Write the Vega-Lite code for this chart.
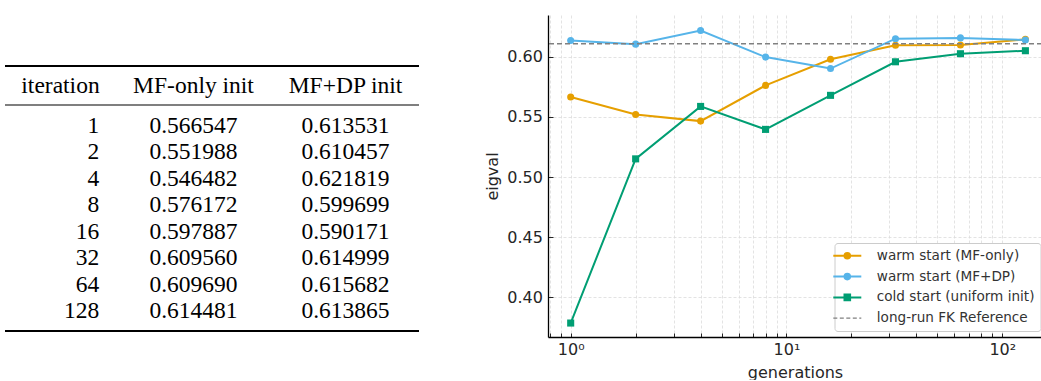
{
  "$schema": "https://vega.github.io/schema/vega-lite/v6.json",
  "padding": {"left": 0, "top": 15, "right": 0, "bottom": 0},
  "background": "white",
  "spacing": 54,
  "config": {"view": {"stroke": null}, "font": "DejaVu Sans"},
  "datasets": {
    "tbl": [
      {"r": 0, "c": 1, "t": "iteration"}, {"r": 0, "c": 2, "t": "MF-only init"}, {"r": 0, "c": 3, "t": "MF+DP init"},
      {"r": 1, "c": 1, "t": "1"}, {"r": 1, "c": 2, "t": "0.566547"}, {"r": 1, "c": 3, "t": "0.613531"},
      {"r": 2, "c": 1, "t": "2"}, {"r": 2, "c": 2, "t": "0.551988"}, {"r": 2, "c": 3, "t": "0.610457"},
      {"r": 3, "c": 1, "t": "4"}, {"r": 3, "c": 2, "t": "0.546482"}, {"r": 3, "c": 3, "t": "0.621819"},
      {"r": 4, "c": 1, "t": "8"}, {"r": 4, "c": 2, "t": "0.576172"}, {"r": 4, "c": 3, "t": "0.599699"},
      {"r": 5, "c": 1, "t": "16"}, {"r": 5, "c": 2, "t": "0.597887"}, {"r": 5, "c": 3, "t": "0.590171"},
      {"r": 6, "c": 1, "t": "32"}, {"r": 6, "c": 2, "t": "0.609560"}, {"r": 6, "c": 3, "t": "0.614999"},
      {"r": 7, "c": 1, "t": "64"}, {"r": 7, "c": 2, "t": "0.609690"}, {"r": 7, "c": 3, "t": "0.615682"},
      {"r": 8, "c": 1, "t": "128"}, {"r": 8, "c": 2, "t": "0.614481"}, {"r": 8, "c": 3, "t": "0.613865"}
    ],
    "rules": [{"r": -0.5}, {"r": 0.5}, {"r": 8.5}],
    "series": [
      {"g": 1, "series": "warm start (MF-only)", "v": 0.566547},
      {"g": 2, "series": "warm start (MF-only)", "v": 0.551988},
      {"g": 4, "series": "warm start (MF-only)", "v": 0.546482},
      {"g": 8, "series": "warm start (MF-only)", "v": 0.576172},
      {"g": 16, "series": "warm start (MF-only)", "v": 0.597887},
      {"g": 32, "series": "warm start (MF-only)", "v": 0.60956},
      {"g": 64, "series": "warm start (MF-only)", "v": 0.60969},
      {"g": 128, "series": "warm start (MF-only)", "v": 0.614481},
      {"g": 1, "series": "warm start (MF+DP)", "v": 0.613531},
      {"g": 2, "series": "warm start (MF+DP)", "v": 0.610457},
      {"g": 4, "series": "warm start (MF+DP)", "v": 0.621819},
      {"g": 8, "series": "warm start (MF+DP)", "v": 0.599699},
      {"g": 16, "series": "warm start (MF+DP)", "v": 0.590171},
      {"g": 32, "series": "warm start (MF+DP)", "v": 0.614999},
      {"g": 64, "series": "warm start (MF+DP)", "v": 0.615682},
      {"g": 128, "series": "warm start (MF+DP)", "v": 0.613865},
      {"g": 1, "series": "cold start (uniform init)", "v": 0.3786},
      {"g": 2, "series": "cold start (uniform init)", "v": 0.5151},
      {"g": 4, "series": "cold start (uniform init)", "v": 0.5587},
      {"g": 8, "series": "cold start (uniform init)", "v": 0.5396},
      {"g": 16, "series": "cold start (uniform init)", "v": 0.5679},
      {"g": 32, "series": "cold start (uniform init)", "v": 0.5958},
      {"g": 64, "series": "cold start (uniform init)", "v": 0.6025},
      {"g": 128, "series": "cold start (uniform init)", "v": 0.605}
    ],
    "ref": [{"series": "long-run FK Reference", "v": 0.6108}]
  },
  "hconcat": [
    {
      "width": 430,
      "height": 322,
      "layer": [
        {
          "data": {"name": "rules"},
          "mark": {"type": "rule", "color": "black"},
          "encoding": {
            "y": {"field": "r", "type": "quantitative", "axis": null,
                  "scale": {"domain": [-0.5, 0, 0.5, 1, 8, 8.5], "range": [51, 70.5, 90, 111, 296, 316], "zero": false, "nice": false}},
            "x": {"datum": 0.5, "type": "quantitative", "axis": null,
                  "scale": {"domain": [0.5, 1, 2, 3, 3.5], "range": [5, 60.5, 193.5, 345.5, 419], "zero": false, "nice": false}},
            "x2": {"datum": 3.5},
            "strokeWidth": {"condition": {"test": "datum.r === 0.5", "value": 1.1}, "value": 2}
          }
        },
        {
          "data": {"name": "tbl"},
          "transform": [{"filter": "datum.c != 1 || datum.r == 0"}],
          "mark": {"type": "text", "font": "Liberation Serif", "fontSize": 23.5, "color": "black", "align": "center", "baseline": "middle"},
          "encoding": {
            "y": {"field": "r", "type": "quantitative", "axis": null},
            "x": {"field": "c", "type": "quantitative", "axis": null},
            "text": {"field": "t"}
          }
        },
        {
          "data": {"name": "tbl"},
          "transform": [{"filter": "datum.c == 1 && datum.r > 0"}],
          "mark": {"type": "text", "font": "Liberation Serif", "fontSize": 23.5, "color": "black", "align": "right", "baseline": "middle", "dx": 38.8},
          "encoding": {
            "y": {"field": "r", "type": "quantitative", "axis": null},
            "x": {"field": "c", "type": "quantitative", "axis": null},
            "text": {"field": "t"}
          }
        }
      ]
    },
    {
      "width": 494,
      "height": 322,
      "layer": [
        {
          "data": {"name": "series"},
          "mark": {"type": "line", "strokeWidth": 2},
          "encoding": {
            "x": {"field": "g", "type": "quantitative",
                  "scale": {"type": "log", "domain": [0.785, 152.8], "nice": false},
                  "axis": {
                    "title": "generations",
                    "values": [0.8, 0.9, 1, 2, 3, 4, 5, 6, 7, 8, 9, 10, 20, 30, 40, 50, 60, 70, 80, 90, 100],
                    "labelExpr": "datum.value == 1 ? '10⁰' : datum.value == 10 ? '10¹' : datum.value == 100 ? '10²' : ''",
                    "labelOverlap": false, "labelFlush": false, "labelBound": false,
                    "labelFontSize": 16, "labelColor": "#262626", "labelPadding": 8,
                    "titleFontSize": 16, "titleFontWeight": "normal", "titleColor": "#262626", "titlePadding": 7,
                    "grid": true, "gridDash": [3, 2], "gridColor": "#dcdcdc", "gridWidth": 0.8,
                    "tickSize": -4, "tickColor": "#262626",
                    "domainColor": "#000000", "domainWidth": 1.3
                  }},
            "y": {"field": "v", "type": "quantitative",
                  "scale": {"domain": [0.367, 0.6347], "nice": false, "zero": false},
                  "axis": {
                    "title": "eigval",
                    "values": [0.4, 0.45, 0.5, 0.55, 0.6], "format": ".2f",
                    "labelFontSize": 16, "labelColor": "#262626", "labelPadding": 10.6,
                    "titleFontSize": 16, "titleFontWeight": "normal", "titleColor": "#262626", "titlePadding": 6,
                    "grid": true, "gridDash": [3, 2], "gridColor": "#dcdcdc", "gridWidth": 0.8,
                    "tickSize": -5, "tickColor": "#262626",
                    "domainColor": "#000000", "domainWidth": 1.3
                  }},
            "color": {"field": "series", "type": "nominal",
                      "scale": {"domain": ["warm start (MF-only)", "warm start (MF+DP)", "cold start (uniform init)", "long-run FK Reference"],
                                "range": ["#E69F00", "#56B4E9", "#009E73", "#808080"]},
                      "legend": {
                        "title": null, "orient": "none", "legendX": 834.5, "legendY": 228,
                        "fillColor": "white", "strokeColor": "#cccccc", "cornerRadius": 3, "padding": 6,
                        "labelFont": "DejaVu Sans", "labelFontSize": 13.6, "labelColor": "#333333",
                        "symbolSize": 784, "labelOffset": 22.7, "rowPadding": 5.8, "symbolOpacity": 1,
                        "encode": {"symbols": {"update": {
                          "shape": {"signal": "datum.value === 'cold start (uniform init)' ? 'M-1,0H1M-0.2,-0.2H0.2V0.2H-0.2Z' : datum.value === 'long-run FK Reference' ? 'M-1,0H1' : 'M-1,0H1M0.2,0A0.2,0.2,0,1,1,-0.2,0A0.2,0.2,0,1,1,0.2,0Z'"},
                          "stroke": {"scale": "color", "field": "value"},
                          "fill": {"scale": "color", "field": "value"},
                          "fillOpacity": {"signal": "datum.value === 'long-run FK Reference' ? 0 : 1"},
                          "strokeDash": {"signal": "datum.value === 'long-run FK Reference' ? [4, 2.5] : []"},
                          "strokeWidth": {"signal": "datum.value === 'long-run FK Reference' ? 1.3 : 2"},
                          "opacity": {"value": 1}
                        }}}
                      }}
          }
        },
        {
          "data": {"name": "series"},
          "mark": {"type": "point", "filled": true, "size": 50, "opacity": 1},
          "encoding": {
            "x": {"field": "g", "type": "quantitative"},
            "y": {"field": "v", "type": "quantitative"},
            "color": {"field": "series", "type": "nominal"},
            "shape": {"field": "series", "type": "nominal", "legend": null,
                      "scale": {"domain": ["warm start (MF-only)", "warm start (MF+DP)", "cold start (uniform init)"], "range": ["circle", "circle", "square"]}}
          }
        },
        {
          "data": {"name": "ref"},
          "mark": {"type": "rule", "strokeDash": [5, 3], "strokeWidth": 1.3},
          "encoding": {
            "y": {"field": "v", "type": "quantitative"},
            "color": {"field": "series", "type": "nominal"}
          }
        }
      ]
    }
  ]
}
